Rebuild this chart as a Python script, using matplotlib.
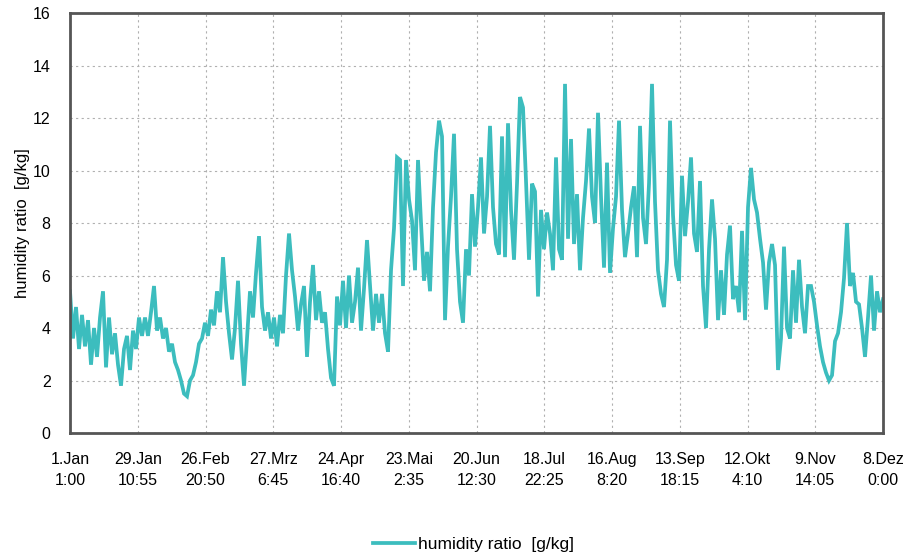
import numpy as np
import matplotlib
matplotlib.use("Agg")
import matplotlib.pyplot as plt

# humidity ratio [g/kg], one reading every ~30.2 hours starting 1.Jan 1:00
humidity = [
    5.4, 3.6, 4.8, 3.2, 4.5, 3.3, 4.3, 2.6, 4.0, 2.9,
    4.4, 5.4, 2.5, 4.4, 3.0, 3.8, 2.6, 1.8, 3.2, 3.7,
    2.4, 3.9, 3.2, 4.4, 3.7, 4.4, 3.7, 4.6, 5.6, 3.9,
    4.4, 3.6, 4.0, 3.1, 3.4, 2.7, 2.4, 2.0, 1.5, 1.4,
    2.0, 2.2, 2.7, 3.4, 3.6, 4.2, 3.7, 4.7, 4.1, 5.4,
    4.6, 6.7, 5.0, 3.8, 2.8,
    4.0, 5.8, 3.4, 1.8, 3.6, 5.4, 4.4, 6.1, 7.5, 4.8,
    3.9, 4.6, 3.6, 4.4, 3.3, 4.5, 3.8, 6.0, 7.6, 6.2,
    5.2, 3.9, 4.9, 5.6, 2.9, 5.0, 6.4, 4.3, 5.4, 4.2,
    4.6, 3.2, 2.1, 1.8, 5.2, 4.1, 5.8, 4.0, 6.0, 4.2,
    5.0, 6.3, 3.9, 5.5, 7.35, 5.6, 3.9, 5.3, 4.2, 5.3,
    3.8, 3.1, 6.2,
    7.8, 10.5, 10.4, 5.6, 10.4, 8.9, 8.1, 6.2, 10.4, 8.0,
    5.8, 6.9, 5.4, 8.6, 10.7, 11.9, 11.3, 4.3, 7.1, 9.0,
    11.4, 7.0, 5.0, 4.2, 7.0, 6.0, 9.1, 7.1, 8.6, 10.5,
    7.6, 9.0, 11.7, 8.6, 7.2, 6.8, 11.3, 6.7, 11.8, 8.5,
    6.6, 9.5, 12.8, 12.4, 9.6, 6.6, 9.5, 9.2, 5.2, 8.5,
    7.0, 8.4, 7.6, 6.2, 10.5,
    7.0, 6.6, 13.3, 7.4, 11.2, 7.2, 9.1, 6.2, 8.2, 9.6,
    11.6, 9.0, 8.0, 12.2, 9.0, 6.3, 10.3, 6.1, 7.8, 9.0,
    11.9, 8.5, 6.7, 7.6, 8.6, 9.4, 6.7, 11.7, 8.2, 7.2,
    9.5, 13.3, 8.8, 6.2, 5.3, 4.8, 6.6, 11.9, 8.3, 6.4,
    5.8, 9.8, 7.5, 8.8, 10.5, 7.6, 6.9, 9.6, 5.6, 4.0,
    7.0, 8.9, 7.4, 4.3,
    6.2, 4.5, 6.8, 7.9, 5.1, 5.6, 4.6, 7.7, 4.3, 8.6,
    10.1, 8.9, 8.4, 7.4, 6.5, 4.7, 6.5, 7.2, 6.4, 2.4,
    3.6, 7.1, 4.0, 3.6, 6.2, 4.2, 6.6, 4.8, 3.8, 5.6,
    5.6, 5.0, 4.1, 3.3, 2.7, 2.3, 2.0, 2.2, 3.5, 3.8,
    4.6, 5.9, 8.0, 5.6, 6.1, 5.0, 4.9, 4.0, 2.9, 4.4,
    6.0, 3.9, 5.4, 4.6, 5.1,
]
hours_span = 8183  # 1.Jan 1:00 .. 8.Dez 0:00
tick_labels = ["1.Jan\n1:00", "29.Jan\n10:55", "26.Feb\n20:50", "27.Mrz\n6:45",
               "24.Apr\n16:40", "23.Mai\n2:35", "20.Jun\n12:30", "18.Jul\n22:25",
               "16.Aug\n8:20", "13.Sep\n18:15", "12.Okt\n4:10", "9.Nov\n14:05",
               "8.Dez\n0:00"]
y_ticks = [0, 2, 4, 6, 8, 10, 12, 14, 16]
series_name = "humidity ratio  [g/kg]"

plt.rcParams['font.family'] = ['Liberation Sans', 'DejaVu Sans']

hours = np.linspace(0, hours_span, len(humidity))

fig = plt.figure(figsize=(9.14, 5.59), dpi=100)
ax = fig.add_axes([0.0766, 0.2254, 0.8895, 0.7513])

ax.plot(hours, humidity, color="#3CBDBE", lw=2.7, solid_joinstyle="miter",
        label=series_name)

ax.set_xlim(0, hours_span)
ax.set_ylim(0, 16)
ax.set_yticks(y_ticks)
ax.set_xticks(np.linspace(0, hours_span, len(tick_labels)))
ax.set_xticklabels(tick_labels, fontsize=11.5, linespacing=1.45)
ax.tick_params(axis="y", labelsize=11.5, length=0, pad=14)
ax.tick_params(axis="x", length=0, pad=14)

ax.grid(True, color="#b0b0b0", linestyle=(0, (2, 3)), linewidth=0.8)
ax.set_axisbelow(True)
for s in ax.spines.values():
    s.set_color("#555555")
    s.set_linewidth(2)

ax.set_ylabel(series_name, fontsize=12, labelpad=2)

fig.legend(loc="lower center", bbox_to_anchor=(0.518, -0.015), frameon=False,
           fontsize=12.5, handlelength=2.4, handletextpad=0.2)

fig.savefig("out.png", dpi=100)
